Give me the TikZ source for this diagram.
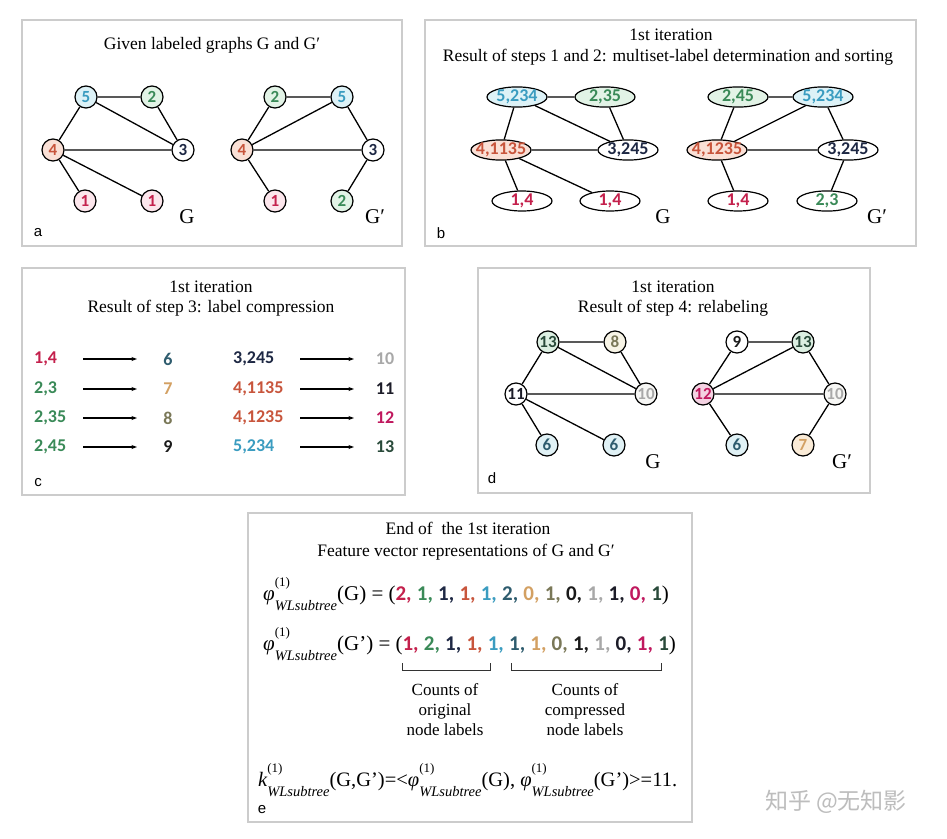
\documentclass[tikz,border=0pt]{standalone}
\usepackage{fontspec}
\setmainfont{Liberation Serif}
\newfontfamily\numfont{Carlito}
\newfontfamily\lsans{Liberation Sans}
\newfontfamily\cjkfont{Noto Sans CJK SC}
\usetikzlibrary{shapes.geometric,arrows.meta}
\newcommand{\setfs}[1]{\fontsize{#1}{#1}\selectfont}
% label colours (text) and fills
\definecolor{c1}{HTML}{C4204C}\definecolor{f1}{HTML}{FCE6EC}
\definecolor{c2}{HTML}{3A8A58}\definecolor{f2}{HTML}{E2F3E6}
\definecolor{c3}{HTML}{1E2844}
\definecolor{c4}{HTML}{C8553C}\definecolor{f4}{HTML}{FAE0D6}
\definecolor{c5}{HTML}{3A9CC0}\definecolor{f5}{HTML}{DDF2F7}
\definecolor{c6}{HTML}{2E5C6E}\definecolor{f6}{HTML}{E0F1F5}
\definecolor{c7}{HTML}{D3A062}\definecolor{f7}{HTML}{FAEBD7}
\definecolor{c8}{HTML}{7A7858}\definecolor{f8}{HTML}{F7F4E6}
\definecolor{c9}{HTML}{1A1A1A}
\definecolor{c10}{HTML}{A8A8A8}\definecolor{f10}{HTML}{F7F7F5}
\definecolor{c11}{HTML}{1C1C28}
\definecolor{c12}{HTML}{C0185E}\definecolor{f12}{HTML}{F4D2E2}
\definecolor{c13}{HTML}{294A3A}\definecolor{f13}{HTML}{DCEFE2}
\definecolor{boxgray}{HTML}{CCCCCC}
\definecolor{wmgray}{HTML}{BDBDBD}
\newcommand{\wlphi}{{\itshape φ}\makebox[0pt][l]{\raisebox{0.67em}{\setfs{13}(1)}}\raisebox{-0.48em}{\setfs{14.5}\itshape WLsubtree}}
\newcommand{\wlk}{{\itshape k}\makebox[0pt][l]{\raisebox{0.67em}{\setfs{13}(1)}}\raisebox{-0.48em}{\setfs{14.5}\itshape WLsubtree}}
\newcommand{\cv}[2]{\textcolor{#1}{\numfont\bfseries #2}}
\tikzset{
  panel/.style={draw=boxgray, line width=1.2pt, fill=white},
  ttl/.style={font=\setfs{17.5}, align=center, inner sep=0},
  gn/.style={circle, draw=black, line width=1.2pt, minimum size=22pt, inner sep=0, font=\numfont\bfseries\setfs{17}},
  en/.style={ellipse, draw=black, line width=1.2pt, minimum width=60pt, minimum height=20pt, inner xsep=-4pt, inner ysep=0pt, font=\numfont\bfseries\setfs{18}},
  edge/.style={line width=1.3pt},
  glab/.style={font=\setfs{21}, inner sep=0},
  plab/.style={font=\lsans\setfs{15}, inner sep=0},
  cl/.style={font=\numfont\bfseries\setfs{18}, inner sep=0, anchor=west},
  ct/.style={font=\numfont\bfseries\setfs{18}, inner sep=0},
  carrow/.style={line width=1.2pt, -{Stealth[length=5.5pt,width=4pt]}},
  eq/.style={font=\setfs{21}, inner sep=0, anchor=west},
  cnt/.style={font=\setfs{17}, align=center, inner sep=0},
  brk/.style={line width=0.9pt, draw=black!80},
}
\begin{document}
\begin{tikzpicture}[x=1pt,y=-1pt]
\useasboundingbox[fill=white] (0,0) rectangle (947,838);
% ---------------- panel boxes
\draw[panel] (22,20) rectangle (402,246);
\draw[panel] (425,20) rectangle (916,246);
\draw[panel] (22,268) rectangle (405,495);
\draw[panel] (478,268) rectangle (870,493);
\draw[panel] (248,513) rectangle (692,822);

% ---------------- panel a
\node[ttl] (ta) at (212,45) {Given labeled graphs G and G′};
\node[gn, fill=f5, text=c5] (a5) at (86,97) {5};
\node[gn, fill=f2, text=c2] (a2) at (152,97) {2};
\node[gn, fill=f4, text=c4] (a4) at (53,150) {4};
\node[gn, fill=white, text=c3] (a3) at (183,150) {3};
\node[gn, fill=f1, text=c1] (a1) at (85,201) {1};
\node[gn, fill=f1, text=c1] (a1b) at (152,201) {1};
\draw[edge] (a5)--(a2) (a5)--(a4) (a5)--(a3) (a2)--(a3) (a4)--(a3) (a4)--(a1) (a4)--(a1b);
\node[glab] (aG) at (187,217) {G};
\node[gn, fill=f2, text=c2] (b2) at (275,97) {2};
\node[gn, fill=f5, text=c5] (b5) at (342,97) {5};
\node[gn, fill=f4, text=c4] (b4) at (242,150) {4};
\node[gn, fill=white, text=c3] (b3) at (373,150) {3};
\node[gn, fill=f1, text=c1] (b1) at (275,201) {1};
\node[gn, fill=f2, text=c2] (b2b) at (342,201) {2};
\draw[edge] (b2)--(b5) (b2)--(b4) (b5)--(b4) (b5)--(b3) (b4)--(b3) (b4)--(b1) (b3)--(b2b);
\node[glab] (aGp) at (375,217) {G′};
\node[plab] (la) at (38,233) {a};

% ---------------- panel b
\node[ttl] (tb1) at (671,35) {1st iteration};
\node[ttl] (tb2) at (668,57) {Result of steps 1 and 2: multiset-label determination and sorting};
\node[en, fill=f5, text=c5] (e5) at (517,97) {5,234};
\node[en, fill=f2, text=c2] (e2) at (605,97) {2,35};
\node[en, fill=f4, text=c4] (e4) at (501,150) {4,1135};
\node[en, fill=white, text=c3] (e3) at (628,150) {3,245};
\node[en, fill=white, text=c1] (e1) at (522,201) {1,4};
\node[en, fill=white, text=c1] (e1b) at (610,201) {1,4};
\draw[edge] (e5)--(e2) (e5)--(e4) (e5)--(e3) (e2)--(e3) (e4)--(e3) (e4)--(e1) (e4)--(e1b);
\node[glab] (bG) at (663,217) {G};
\node[en, fill=f2, text=c2] (h2) at (738,97) {2,45};
\node[en, fill=f5, text=c5] (h5) at (823,97) {5,234};
\node[en, fill=f4, text=c4] (h4) at (717,150) {4,1235};
\node[en, fill=white, text=c3] (h3) at (848,150) {3,245};
\node[en, fill=white, text=c1] (h1) at (738,201) {1,4};
\node[en, fill=white, text=c2] (h23) at (827,201) {2,3};
\draw[edge] (h2)--(h5) (h2)--(h4) (h5)--(h4) (h5)--(h3) (h4)--(h3) (h4)--(h1) (h3)--(h23);
\node[glab] (bGp) at (877,217) {G′};
\node[plab] (lb) at (441,233) {b};

% ---------------- panel c
\node[ttl] (tc1) at (211,287) {1st iteration};
\node[ttl] (tc2) at (211,308) {Result of step 3: label compression};
\node[cl, text=c1] (s1) at (34,359) {1,4};
\node[cl, text=c2] (s2) at (34,389) {2,3};
\node[cl, text=c2] (s3) at (34,418) {2,35};
\node[cl, text=c2] (s4) at (34,447) {2,45};
\node[ct, text=c6] (t6) at (168,359) {6};
\node[ct, text=c7] (t7) at (168,389) {7};
\node[ct, text=c8] (t8) at (168,418) {8};
\node[ct, text=c9] (t9) at (168,447) {9};
\node[cl, text=c3] (s5) at (233,359) {3,245};
\node[cl, text=c4] (s6) at (233,389) {4,1135};
\node[cl, text=c4] (s7) at (233,418) {4,1235};
\node[cl, text=c5] (s8) at (233,447) {5,234};
\node[ct, text=c10] (t10) at (385,359) {10};
\node[ct, text=c11] (t11) at (385,389) {11};
\node[ct, text=c12] (t12) at (385,418) {12};
\node[ct, text=c13] (t13) at (385,447) {13};
\foreach \i/\y in {1/359,2/389,3/418,4/447}{
  \coordinate (p\i) at (83,\y); \coordinate (q\i) at (137,\y);
  \draw[carrow] (p\i)--(q\i);
  \coordinate (r\i) at (300,\y); \coordinate (u\i) at (354,\y);
  \draw[carrow] (r\i)--(u\i);
}
\node[plab] (lc) at (38,483) {c};

% ---------------- panel d
\node[ttl] (td1) at (673,287) {1st iteration};
\node[ttl] (td2) at (673,308) {Result of step 4: relabeling};
\node[gn, fill=f13, text=c13] (d13) at (548,342) {13};
\node[gn, fill=f8, text=c8] (d8) at (615,342) {8};
\node[gn, fill=white, text=c11] (d11) at (516,394) {11};
\node[gn, fill=f10, text=c10] (d10) at (646,394) {10};
\node[gn, fill=f6, text=c6] (d6) at (547,445) {6};
\node[gn, fill=f6, text=c6] (d6b) at (614,445) {6};
\draw[edge] (d13)--(d8) (d13)--(d11) (d13)--(d10) (d8)--(d10) (d11)--(d10) (d11)--(d6) (d11)--(d6b);
\node[glab] (dG) at (653,462) {G};
\node[gn, fill=white, text=c9] (g9) at (737,342) {9};
\node[gn, fill=f13, text=c13] (g13) at (803,342) {13};
\node[gn, fill=f12, text=c12] (g12) at (703,394) {12};
\node[gn, fill=f10, text=c10] (g10) at (835,394) {10};
\node[gn, fill=f6, text=c6] (g6) at (737,445) {6};
\node[gn, fill=f7, text=c7] (g7) at (803,445) {7};
\draw[edge] (g9)--(g13) (g9)--(g12) (g13)--(g12) (g13)--(g10) (g12)--(g10) (g12)--(g6) (g10)--(g7);
\node[glab] (dGp) at (842,462) {G′};
\node[plab] (ld) at (492,478) {d};

% ---------------- panel e
\node[ttl] (te1) at (468,528) {End of \ the 1st iteration};
\node[ttl] (te2) at (466,552) {Feature vector representations of G and G′};
\node[eq] (v1) at (263,594) {\wlphi(G) = (\cv{c1}{2,} \cv{c2}{1,} \cv{c3}{1,} \cv{c4}{1,} \cv{c5}{1,} \cv{c6}{2,} \cv{c7}{0,} \cv{c8}{1,} \cv{c9}{0,} \cv{c10}{1,} \cv{c11}{1,} \cv{c12}{0,} \cv{c13}{1})};
\node[eq] (v2) at (263,644) {\wlphi(G’) = (\cv{c1}{1,} \cv{c2}{2,} \cv{c3}{1,} \cv{c4}{1,} \cv{c5}{1,} \cv{c6}{1,} \cv{c7}{1,} \cv{c8}{0,} \cv{c9}{1,} \cv{c10}{1,} \cv{c11}{0,} \cv{c12}{1,} \cv{c13}{1})};
\coordinate (k1a) at (402,663); \coordinate (k1b) at (490,663);
\coordinate (k2a) at (511,663); \coordinate (k2b) at (661,663);
\draw[brk] (k1a) -- ++(0,7) -| (k1b);
\draw[brk] (k2a) -- ++(0,7) -| (k2b);
\node[cnt] (n1) at (445,710) {Counts of\\[3pt]original\\[3pt]node labels};
\node[cnt] (n2) at (585,710) {Counts of\\[3pt]compressed\\[3pt]node labels};
\node[eq, font=\setfs{20.5}] (kk) at (258,780) {\wlk(G,G’)=<\wlphi(G), \wlphi(G’)>=11.};
\node[plab] (le) at (262,810) {e};

% ---------------- watermark
\node[font=\cjkfont\setfs{23}, text=wmgray, inner sep=0] (wm) at (836,802) {知乎 @无知影};
\end{tikzpicture}
\end{document}
